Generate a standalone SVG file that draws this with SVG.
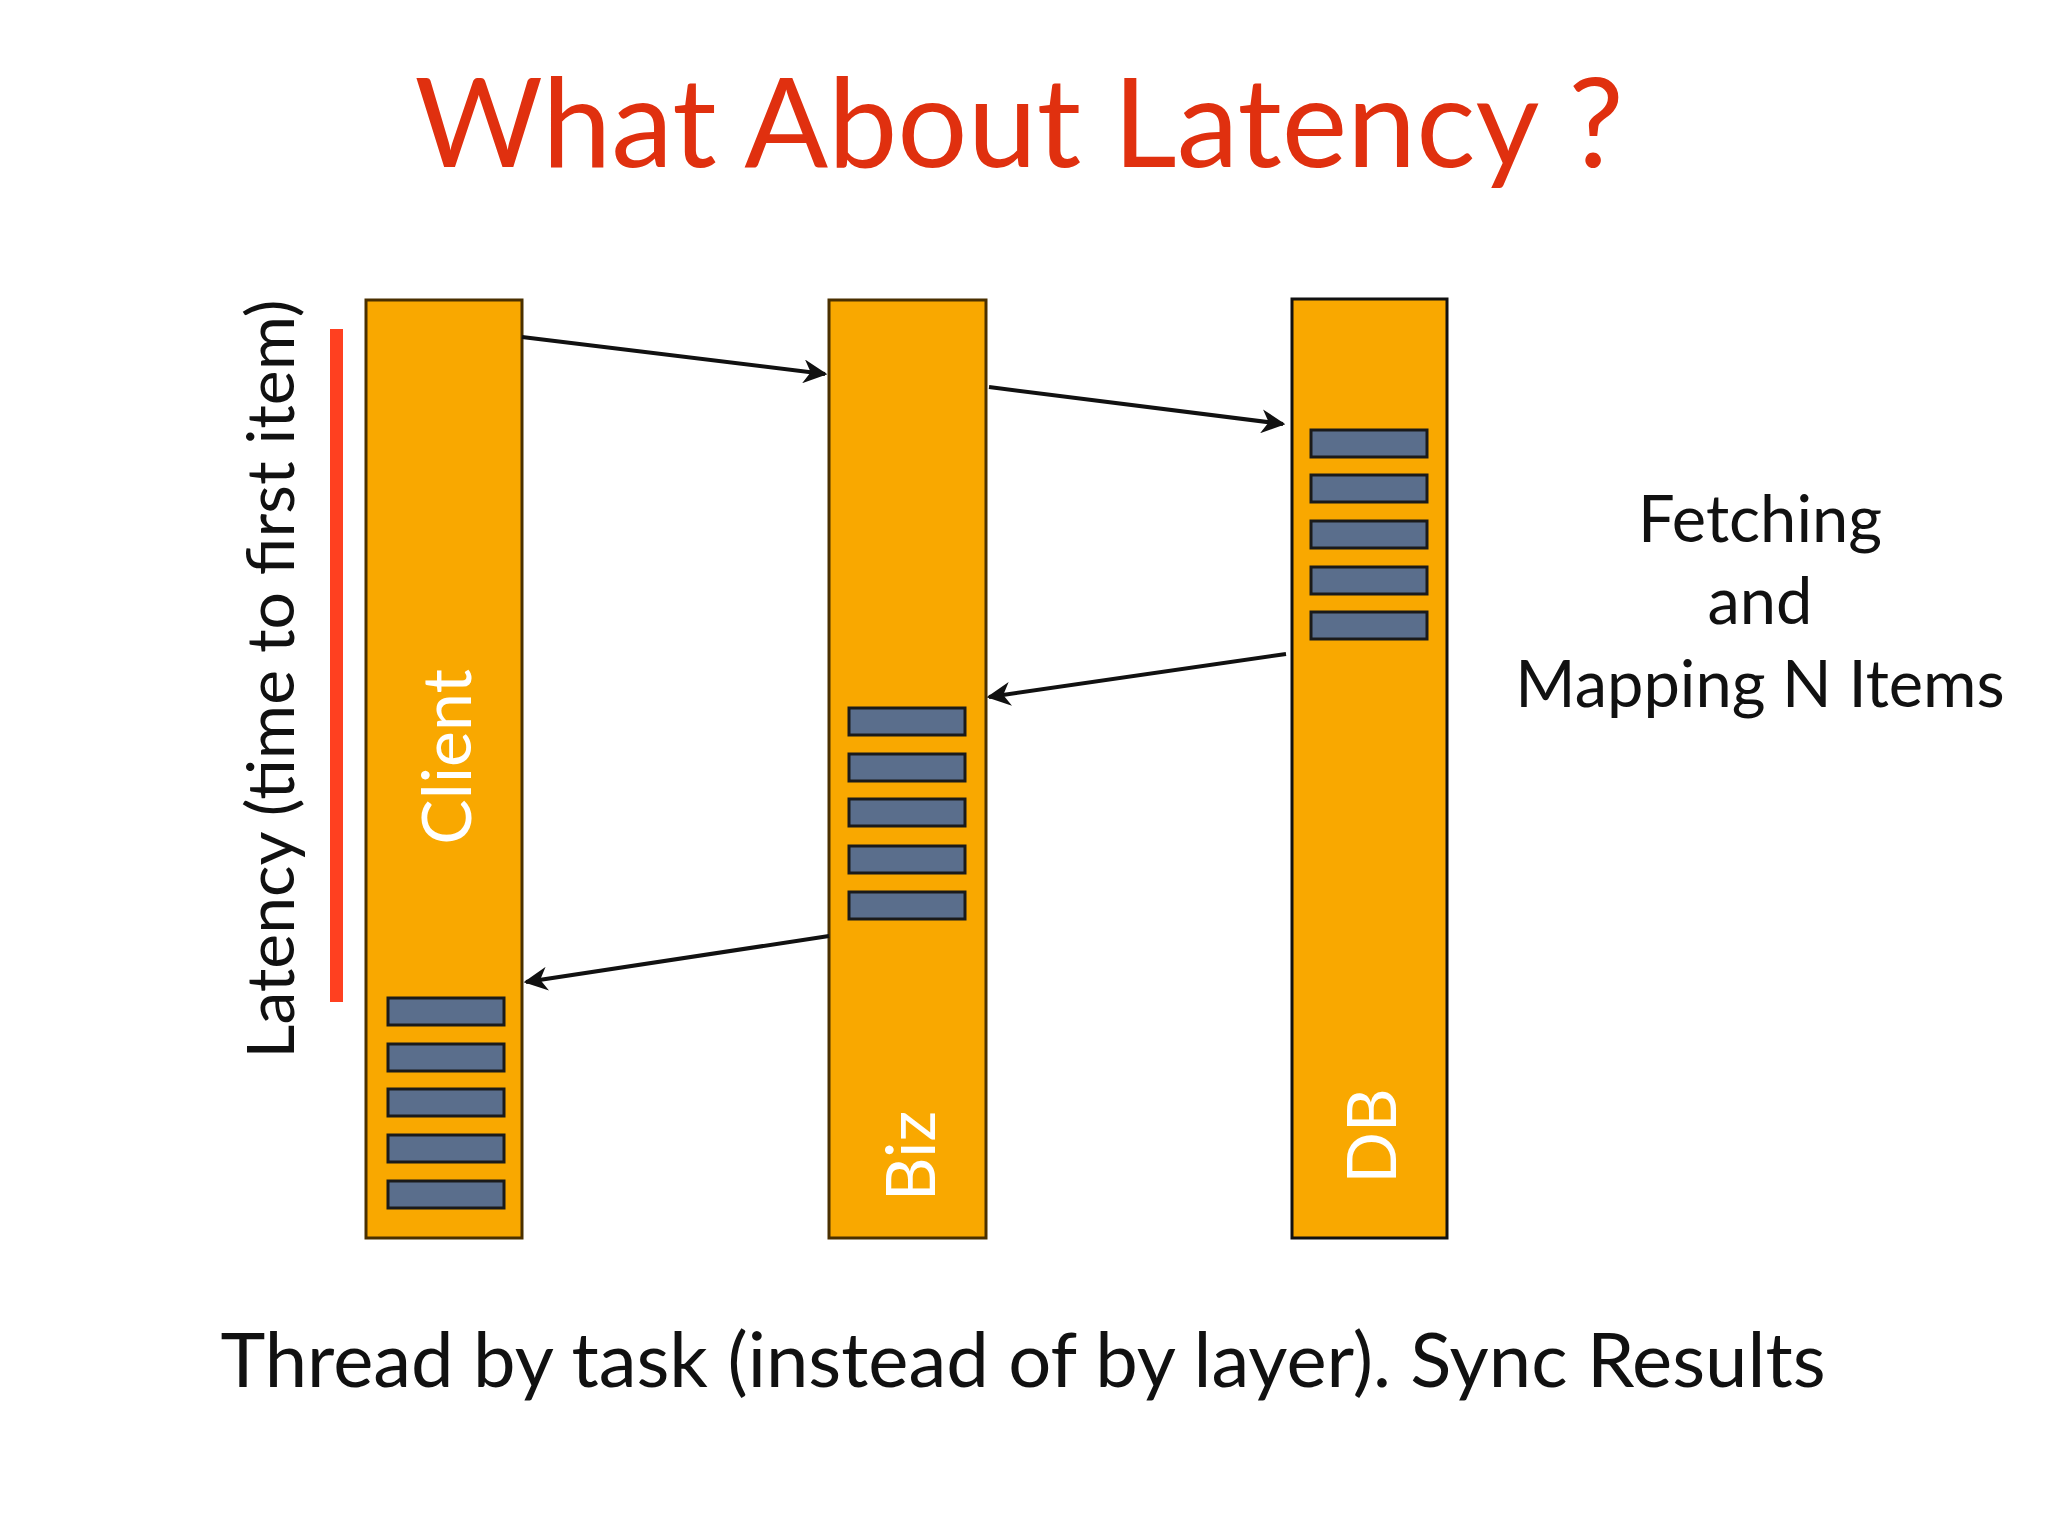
<svg xmlns="http://www.w3.org/2000/svg" width="2048" height="1536" viewBox="0 0 2048 1536">
<style>
.bar{fill:#f9a800;stroke:#4a3000;stroke-width:3}
.item{fill:#5a6e8c;stroke:#1a1a1a;stroke-width:3}
.t{font-family:Lato,"Open Sans",sans-serif}
.lbl{font-family:Lato,"Open Sans",sans-serif;fill:#fff;font-size:68px;text-anchor:middle;dominant-baseline:central}
.conn{stroke:#111;stroke-width:4;fill:none;marker-end:url(#ah)}
</style>
<defs>
<marker id="ah" viewBox="0 0 10 10" refX="9" refY="5" markerWidth="6" markerHeight="6" orient="auto" markerUnits="strokeWidth"><path d="M0,0 L10,5 L0,10 L3,5 z" fill="#111"/></marker>
</defs>
<rect width="2048" height="1536" fill="#fff"/>
<text class="t" x="1019" y="167" font-size="124" fill="#e0300f" text-anchor="middle">What About Latency ?</text>
<rect x="330" y="329" width="13" height="673" fill="#ff4020"/>
<text class="t" transform="translate(268,679) rotate(-90)" font-size="66" fill="#111" text-anchor="middle" dominant-baseline="central">Latency (time to first item)</text>
<g id="client">
<rect class="bar" x="366" y="300" width="156" height="938"/>
<text class="lbl" transform="translate(444,757) rotate(-90)">Client</text>
<rect class="item" x="388" y="998" width="116" height="27"/><rect class="item" x="388" y="1044" width="116" height="27"/><rect class="item" x="388" y="1089" width="116" height="27"/><rect class="item" x="388" y="1135" width="116" height="27"/><rect class="item" x="388" y="1181" width="116" height="27"/>
</g>
<g id="biz">
<rect class="bar" x="829" y="300" width="157" height="938"/>
<text class="lbl" transform="translate(908,1156) rotate(-90)">Biz</text>
<rect class="item" x="849" y="708" width="116" height="27"/><rect class="item" x="849" y="754" width="116" height="27"/><rect class="item" x="849" y="799" width="116" height="27"/><rect class="item" x="849" y="846" width="116" height="27"/><rect class="item" x="849" y="892" width="116" height="27"/>
</g>
<g id="db">
<rect class="bar" x="1292" y="299" width="155" height="939" style="stroke:#111"/>
<text class="lbl" transform="translate(1369,1136) rotate(-90)">DB</text>
<rect class="item" x="1311" y="430" width="116" height="27"/><rect class="item" x="1311" y="475" width="116" height="27"/><rect class="item" x="1311" y="521" width="116" height="27"/><rect class="item" x="1311" y="567" width="116" height="27"/><rect class="item" x="1311" y="612" width="116" height="27"/>
</g>
<g id="connectors">
<line class="conn" x1="522" y1="337" x2="825" y2="374"/>
<line class="conn" x1="989" y1="387" x2="1283" y2="424"/>
<line class="conn" x1="1286" y1="654" x2="989" y2="697"/>
<line class="conn" x1="829" y1="936" x2="526" y2="982"/>
</g>
<g id="note" class="t" font-size="65" fill="#111" text-anchor="middle">
<text x="1760" y="542">Fetching</text>
<text x="1760" y="624">and</text>
<text x="1760" y="707">Mapping N Items</text>
</g>
<text class="t" x="1023" y="1387" font-size="76" fill="#111" text-anchor="middle">Thread by task (instead of by layer). Sync Results</text>
</svg>
